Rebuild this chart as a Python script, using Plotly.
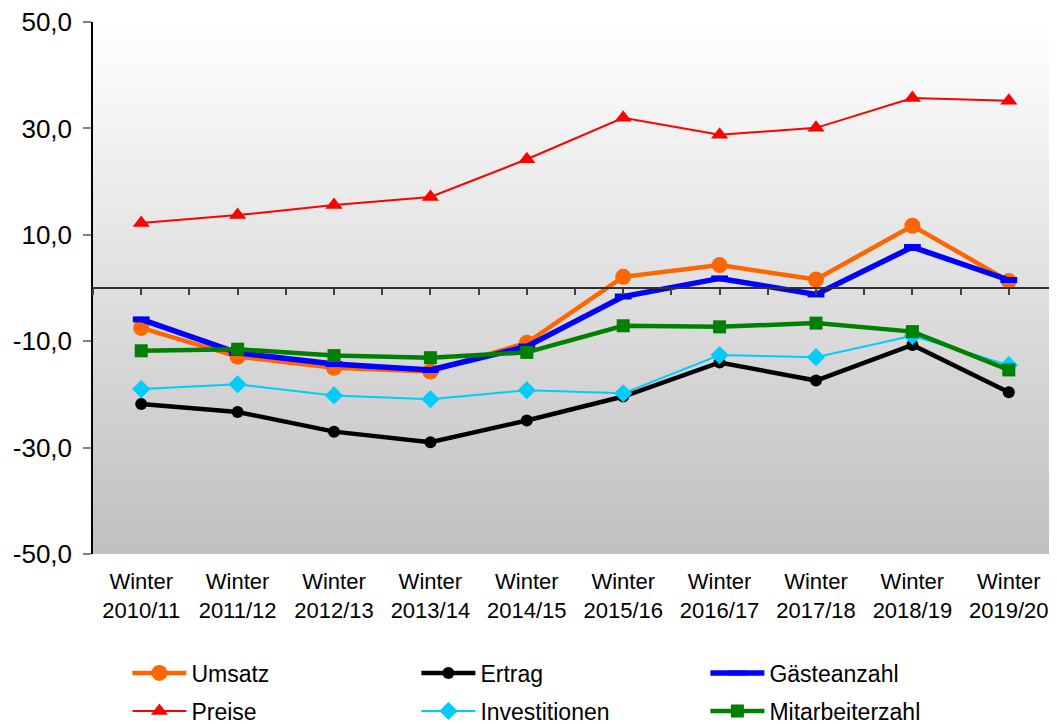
import base64, struct, zlib
import plotly.graph_objects as go

categories = ["Winter<br>2010/11", "Winter<br>2011/12", "Winter<br>2012/13", "Winter<br>2013/14",
              "Winter<br>2014/15", "Winter<br>2015/16", "Winter<br>2016/17", "Winter<br>2017/18",
              "Winter<br>2018/19", "Winter<br>2019/20"]

umsatz = [-7.5, -12.9, -15.0, -15.7, -10.3, 2.1, 4.3, 1.6, 11.7, 1.3]
ertrag = [-21.8, -23.3, -27.0, -29.0, -24.9, -20.4, -14.0, -17.4, -10.7, -19.6]
gaesteanzahl = [-5.9, -12.2, -14.3, -15.4, -11.0, -1.6, 1.8, -1.2, 7.7, 1.5]
preise = [12.2, 13.7, 15.6, 17.1, 24.2, 32.0, 28.8, 30.1, 35.7, 35.2]
investitionen = [-19.0, -18.1, -20.2, -20.9, -19.2, -19.8, -12.6, -13.0, -9.0, -14.5]
mitarbeiterzahl = [-11.8, -11.5, -12.7, -13.1, -12.1, -7.1, -7.3, -6.6, -8.2, -15.4]

y_ticks = [-50, -30, -10, 10, 30, 50]
y_ticktext = [f"{v:.1f}".replace(".", ",") for v in y_ticks]

# vertical gradient background (white -> grey) as PNG
def gradient_png(top=255, bottom=192, h=256):
    raw = b""
    for i in range(h):
        c = round(top + (bottom - top) * i / (h - 1))
        raw += b"\x00" + bytes([c, c, c])
    def chunk(t, d):
        return struct.pack(">I", len(d)) + t + d + struct.pack(">I", zlib.crc32(t + d) & 0xffffffff)
    png = b"\x89PNG\r\n\x1a\n" + chunk(b"IHDR", struct.pack(">IIBBBBB", 1, h, 8, 2, 0, 0, 0))
    png += chunk(b"IDAT", zlib.compress(raw)) + chunk(b"IEND", b"")
    return "data:image/png;base64," + base64.b64encode(png).decode()

FONT = "Liberation Sans, Arial, sans-serif"

# page body has an 8px default margin; size the figure so it fills the window exactly
PAGE_OFF = 8
FIG_W, FIG_H = 1057 - PAGE_OFF, 724 - PAGE_OFF

fig = go.Figure()

series = [
    ("Umsatz", umsatz, "#FF6600", 4.5, "circle", 16, "legend"),
    ("Ertrag", ertrag, "#000000", 4.5, "circle", 12, "legend"),
    ("Gästeanzahl", gaesteanzahl, "#0000FF", 5.5, "line-ew", 12, "legend"),
    ("Preise", preise, "#FF0000", 2, "triangle-up", 15, "legend2"),
    ("Investitionen", investitionen, "#00CCFF", 2, "diamond", 14, "legend2"),
    ("Mitarbeiterzahl", mitarbeiterzahl, "#008000", 4.5, "square", 13, "legend2"),
]

for name, vals, col, lw, sym, ms, lg in series:
    marker = dict(symbol=sym, size=ms, color=col)
    if sym == "line-ew":
        marker["line"] = dict(width=6, color=col)
    fig.add_trace(go.Scatter(
        x=categories, y=vals, name=name, mode="lines+markers",
        line=dict(color=col, width=lw), marker=marker, legend=lg,
    ))

# helper trace for the zero-line axis with half-category tick marks
n = len(categories)
fig.add_trace(go.Scatter(x=[None], y=[None], xaxis="x2", showlegend=False, hoverinfo="skip"))

legend_common = dict(orientation="h", xref="container", yref="container", x=119.4 / FIG_W,
                     xanchor="left", yanchor="middle", entrywidth=220, itemwidth=54,
                     font=dict(size=23, family=FONT), bgcolor="rgba(0,0,0,0)", traceorder="normal")

fig.update_layout(
    width=FIG_W, height=FIG_H,
    margin=dict(l=93 - PAGE_OFF, r=0, t=22 - PAGE_OFF, b=170),
    paper_bgcolor="white", plot_bgcolor="rgba(0,0,0,0)",
    font=dict(family=FONT, color="black"),
    images=[dict(source=gradient_png(), xref="paper", yref="paper", x=0, y=1,
                 sizex=1, sizey=1, sizing="stretch", layer="below", xanchor="left", yanchor="top")],
    xaxis=dict(type="category", range=[-0.5, n - 0.5], showline=False, ticks="", showgrid=False,
               zeroline=False, tickfont=dict(size=22, family=FONT), ticklabelstandoff=12,
               automargin=False, ticklabeloverflow="allow"),
    xaxis2=dict(overlaying="x", anchor="free", position=0.5, range=[-0.5, n - 0.5],
                tickvals=[i / 2 - 0.5 for i in range(2 * n + 1)], showticklabels=False,
                ticks="outside", ticklen=6, tickcolor="#404040", tickwidth=1.5,
                showline=True, linecolor="#303030", linewidth=1.5, showgrid=False, zeroline=False,
                automargin=False),
    yaxis=dict(range=[-50, 50], tickvals=y_ticks, ticktext=y_ticktext, showline=True,
               linecolor="black", linewidth=1.5, ticks="outside", ticklen=8, tickcolor="#808080",
               tickwidth=2, showgrid=False, zeroline=False, tickfont=dict(size=26, family=FONT),
               ticklabelstandoff=6, automargin=False, ticklabeloverflow="allow"),
    legend=dict(legend_common, y=1 - (673 - PAGE_OFF) / FIG_H),
    legend2=dict(legend_common, y=1 - (711 - PAGE_OFF) / FIG_H),
    showlegend=True,
)

fig.write_html("out.html")
